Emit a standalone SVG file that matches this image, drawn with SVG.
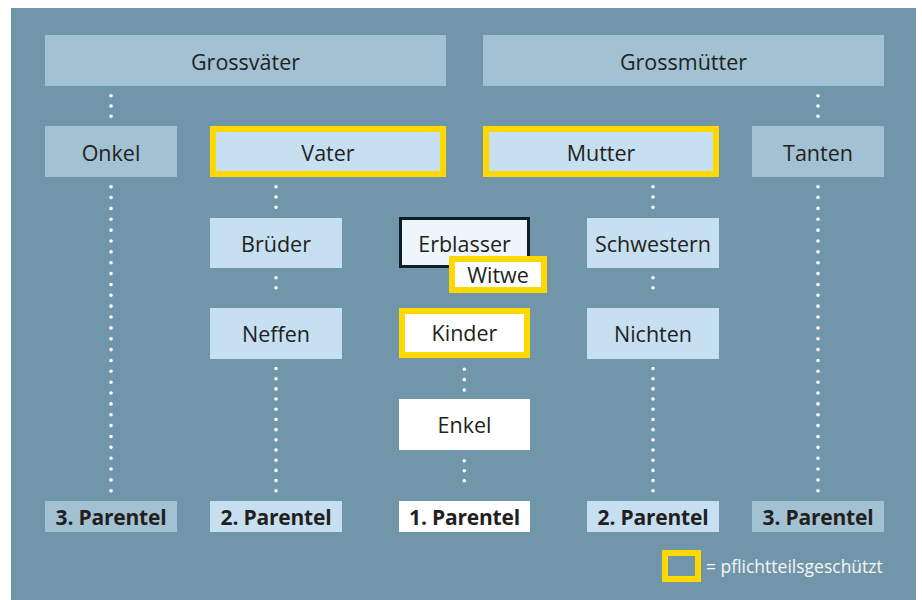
<svg xmlns="http://www.w3.org/2000/svg" width="922" height="600" viewBox="0 0 922 600">
<style>
text{font-family:"Open Sans","Liberation Sans",sans-serif;fill:#231f20;text-anchor:middle}
.t{font-size:21.5px}
.b{font-size:21px;font-weight:bold;letter-spacing:-0.2px}
.gray{fill:#a2c1d2}
.blue{fill:#c6dff1}
.white{fill:#ffffff}
.y{stroke:#ffd800;stroke-width:6}
.dots{stroke:#ffffff;stroke-width:3.6;stroke-linecap:round;fill:none}
</style>
<rect x="0" y="0" width="922" height="600" fill="#ffffff"/>
<rect x="11" y="8" width="905" height="592" fill="#7296a9"/>
<g id="connectors">
<line class="dots" x1="111" y1="95.7" x2="111" y2="116.3" stroke-dasharray="0 10.3"/>
<line class="dots" x1="818" y1="95.7" x2="818" y2="116.3" stroke-dasharray="0 10.3"/>
<line class="dots" x1="111" y1="186.7" x2="111" y2="490.8" stroke-dasharray="0 10.86"/>
<line class="dots" x1="818" y1="186.7" x2="818" y2="490.8" stroke-dasharray="0 10.86"/>
<line class="dots" x1="276" y1="186.7" x2="276" y2="207.3" stroke-dasharray="0 10.3"/>
<line class="dots" x1="653" y1="186.7" x2="653" y2="207.3" stroke-dasharray="0 10.3"/>
<line class="dots" x1="276" y1="277.7" x2="276" y2="297.7" stroke-dasharray="0 10"/>
<line class="dots" x1="653" y1="277.7" x2="653" y2="297.7" stroke-dasharray="0 10"/>
<line class="dots" x1="276" y1="368.5" x2="276" y2="490.8" stroke-dasharray="0 10.19"/>
<line class="dots" x1="653" y1="368.5" x2="653" y2="490.8" stroke-dasharray="0 10.19"/>
<line class="dots" x1="464.3" y1="369.3" x2="464.3" y2="390" stroke-dasharray="0 10.35"/>
<line class="dots" x1="464.3" y1="460.7" x2="464.3" y2="490.7" stroke-dasharray="0 10"/>
</g>
<g id="grossvaeter"><rect class="gray" x="45" y="35" width="401" height="51"/><text class="t" x="245.5" y="70">Grossväter</text></g>
<g id="grossmuetter"><rect class="gray" x="483" y="35" width="401" height="51"/><text class="t" x="683.5" y="70">Grossmütter</text></g>
<g id="onkel"><rect class="gray" x="45" y="126" width="132" height="51"/><text class="t" x="111" y="161">Onkel</text></g>
<g id="vater"><rect class="blue y" x="213" y="129" width="230" height="45"/><text class="t" x="328" y="161">Vater</text></g>
<g id="mutter"><rect class="blue y" x="486" y="129" width="230" height="45"/><text class="t" x="601" y="160.5">Mutter</text></g>
<g id="tanten"><rect class="gray" x="752" y="126" width="132" height="51"/><text class="t" x="818" y="161">Tanten</text></g>
<g id="brueder"><rect class="blue" x="210" y="218" width="132" height="50"/><text class="t" x="276" y="252">Brüder</text></g>
<g id="erblasser"><rect x="400.5" y="218.5" width="128" height="48" fill="#eef6fc" stroke="#0d1e2a" stroke-width="3"/><text class="t" x="464.5" y="252">Erblasser</text></g>
<g id="witwe"><rect class="white y" x="452" y="259" width="92" height="31"/><text class="t" x="498" y="282.5">Witwe</text></g>
<g id="schwestern"><rect class="blue" x="587" y="218" width="132" height="50"/><text class="t" x="653" y="252">Schwestern</text></g>
<g id="neffen"><rect class="blue" x="210" y="308" width="132" height="51"/><text class="t" x="276" y="342">Neffen</text></g>
<g id="kinder"><rect class="white y" x="402" y="311" width="125" height="44"/><text class="t" x="464.5" y="340.5">Kinder</text></g>
<g id="nichten"><rect class="blue" x="587" y="308" width="132" height="51"/><text class="t" x="653" y="342">Nichten</text></g>
<g id="enkel"><rect class="white" x="399" y="399" width="131" height="51"/><text class="t" x="464.5" y="433">Enkel</text></g>
<g id="p3l"><rect class="gray" x="45" y="501" width="132" height="31"/><text class="b" x="111" y="524.5">3. Parentel</text></g>
<g id="p2l"><rect class="blue" x="210" y="501" width="132" height="31"/><text class="b" x="276" y="524.5">2. Parentel</text></g>
<g id="p1"><rect class="white" x="399" y="501" width="131" height="31"/><text class="b" x="464.5" y="524.5">1. Parentel</text></g>
<g id="p2r"><rect class="blue" x="587" y="501" width="132" height="31"/><text class="b" x="653" y="524.5">2. Parentel</text></g>
<g id="p3r"><rect class="gray" x="752" y="501" width="132" height="31"/><text class="b" x="818" y="524.5">3. Parentel</text></g>
<g id="legend"><rect x="665" y="553" width="33" height="26" fill="none" class="y"/><text x="706" y="573" style="font-size:17.5px;fill:#f2f6f8;text-anchor:start">= pflichtteilsgeschützt</text></g>
</svg>
